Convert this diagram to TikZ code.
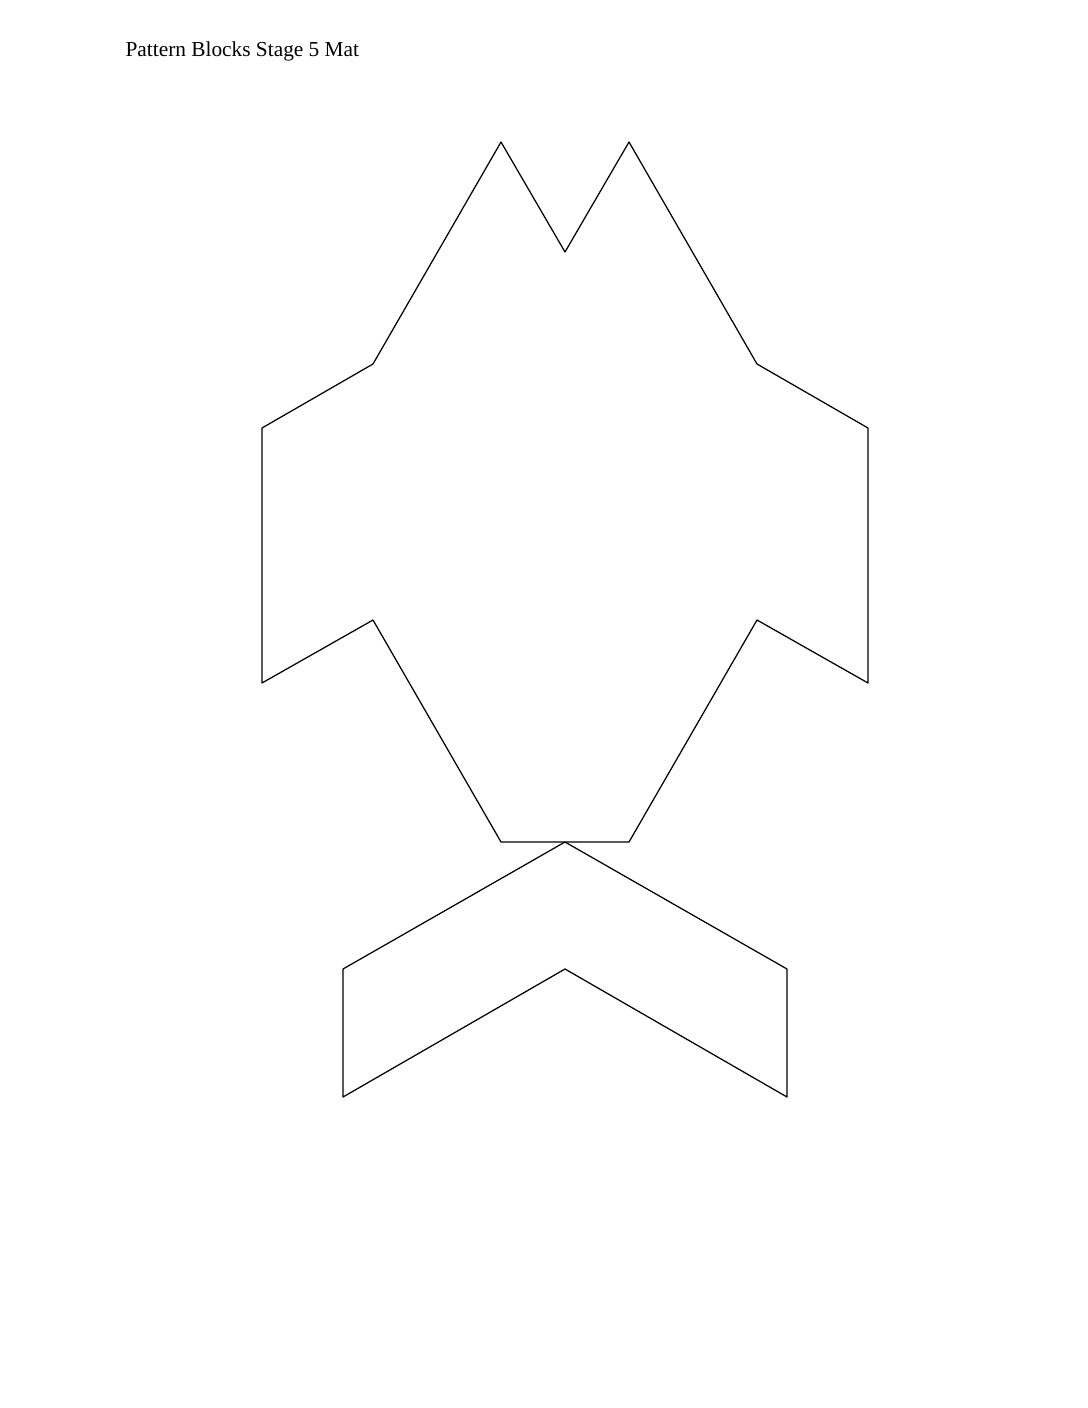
\documentclass[tikz,border=0pt]{standalone}
\usepackage{fontspec}
\setmainfont{Liberation Serif}
\tikzset{>=latex}

\begin{document}
\begin{tikzpicture}[x=0.5625pt, y=-0.5625pt, line join = round, line width=0.7pt]
    \useasboundingbox (0,0) rectangle (1088,1408);
    \node[anchor=base west, inner sep=0pt, font=\fontsize{12}{14}\selectfont] (title) at (125,57) {Pattern Blocks Stage 5 Mat};
    % upper mat shape
    \draw (501,142) -- (565,252) -- (629,142) -- (757,364) -- (868,428) -- (868,683)
        -- (757,620) -- (629,842) -- (501,842) -- (373,620) -- (262,683) -- (262,428)
        -- (373,364) -- cycle;
    % chevron below
    \draw (565,842) -- (787,969) -- (787,1097) -- (565,969) -- (343,1097) -- (343,969) -- cycle;
\end{tikzpicture}
\end{document}
